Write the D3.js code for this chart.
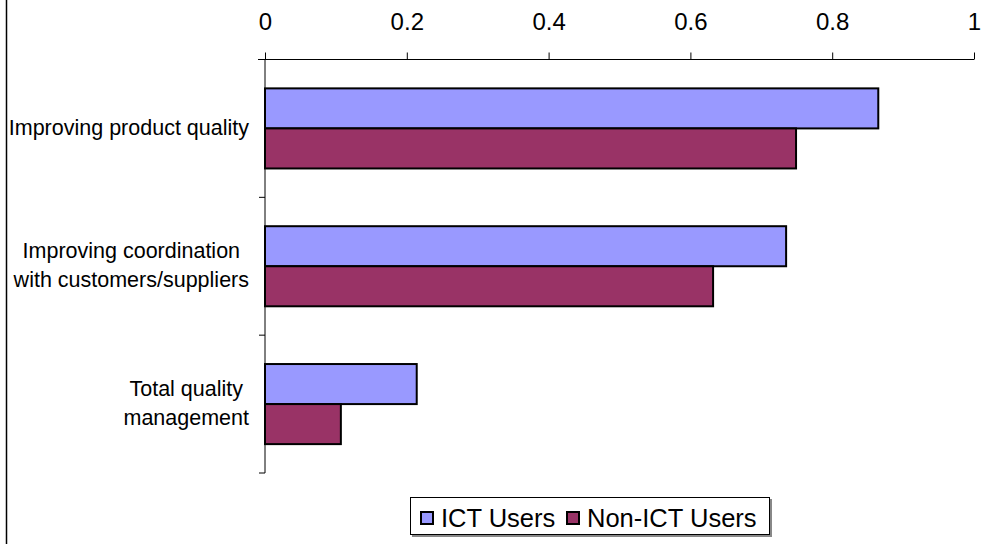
<!DOCTYPE html>
<html>
<head>
<meta charset="utf-8">
<script src="https://cdn.jsdelivr.net/npm/d3@7"></script>
<style>
  html, body { margin: 0; padding: 0; background: #fff; }
  svg { display: block; font-family: "Liberation Sans", Arial, sans-serif; }
</style>
</head>
<body>
<svg id="chart" width="981" height="544"></svg>
<script>
const categories = [
  ["Improving product quality"],
  ["Improving coordination", "with customers/suppliers"],
  ["Total quality", "management"]
];
const seriesNames = ["ICT Users", "Non-ICT Users"];
const ictValues = [0.865, 0.735, 0.214];
const nonIctValues = [0.749, 0.632, 0.107];
const tickValues = [0, 0.2, 0.4, 0.6, 0.8, 1];
const seriesColors = ["#9999FF", "#993366"];

(function () {
const svg = d3.select("#chart");
const pLeft = 265, pRight = 974, pTop = 59.5, pBottom = 473;

const x = d3.scaleLinear().domain([0, 1]).range([pLeft, pRight]);
const y = d3.scaleBand().domain(d3.range(categories.length)).range([pTop, pBottom])
  .paddingInner(0.419).paddingOuter(0.2095);
const ySub = d3.scaleBand().domain([0, 1]).range([0, y.bandwidth()]);

// outer frame left edge
svg.append("line").attr("x1", 6.5).attr("x2", 6.5).attr("y1", 0).attr("y2", 544)
  .attr("stroke", "#000").attr("stroke-width", 1.5);

// top axis
const xAxis = d3.axisTop(x).tickValues(tickValues).tickSize(7).tickPadding(0)
  .tickFormat(d => d3.format("")(d));
const gx = svg.append("g").attr("transform", `translate(0,${pTop})`).call(xAxis);
gx.select(".domain").attr("d", `M${pLeft - 7},0H${pRight}`).attr("stroke", "#000");
gx.selectAll(".tick line").attr("stroke", "#000");
gx.selectAll(".tick text").attr("font-size", 24).attr("fill", "#000")
  .attr("y", -29.5).attr("dy", 0);

// left axis line with ticks at band boundaries
const boundaries = d3.range(categories.length + 1).map(i => pTop + i * (pBottom - pTop) / categories.length);
svg.append("line").attr("x1", pLeft).attr("x2", pLeft).attr("y1", pTop).attr("y2", pBottom)
  .attr("stroke", "#000");
svg.selectAll(".ytick").data(boundaries).join("line")
  .attr("x1", pLeft - 6).attr("x2", pLeft).attr("y1", d => d).attr("y2", d => d)
  .attr("stroke", "#000");

// bars
const data = categories.map((c, i) => ({ i, vals: [ictValues[i], nonIctValues[i]] }));
const groups = svg.selectAll(".grp").data(data).join("g")
  .attr("transform", d => `translate(0,${y(d.i)})`);
groups.selectAll("rect").data(d => d.vals.map((v, s) => ({ v, s }))).join("rect")
  .attr("x", x(0))
  .attr("y", d => ySub(d.s))
  .attr("width", d => x(d.v) - x(0))
  .attr("height", ySub.bandwidth())
  .attr("fill", d => seriesColors[d.s])
  .attr("stroke", "#000").attr("stroke-width", 2);

// category labels
const lineH = 29;
categories.forEach((lines, i) => {
  const cy = y(i) + y.bandwidth() / 2;
  const t = svg.append("text").attr("font-size", 21.5).attr("fill", "#000").attr("text-anchor", "middle");
  const n = lines.length;
  lines.forEach((ln, k) => {
    t.append("tspan").attr("y", cy + 6.5 + (k - (n - 1) / 2) * lineH).text(ln);
  });
  const w = d3.max(t.selectAll("tspan").nodes(), nd => nd.getComputedTextLength());
  t.selectAll("tspan").attr("x", 249 - w / 2);
});

// legend
const lg = svg.append("g");
lg.append("rect").attr("x", 412).attr("y", 499).attr("width", 360).attr("height", 38).attr("fill", "#888");
lg.append("rect").attr("x", 410.5).attr("y", 497.5).attr("width", 359).attr("height", 37)
  .attr("fill", "#fff").attr("stroke", "#000").attr("stroke-width", 1);
const legX = [421, 567];
seriesNames.forEach((name, s) => {
  lg.append("rect").attr("x", legX[s]).attr("y", 512).attr("width", 12).attr("height", 12)
    .attr("fill", seriesColors[s]).attr("stroke", "#000").attr("stroke-width", 2);
  lg.append("text").attr("x", legX[s] + 20).attr("y", 526.5).attr("font-size", 25.5).attr("fill", "#000").text(name);
});
})();
</script>
</body>
</html>
